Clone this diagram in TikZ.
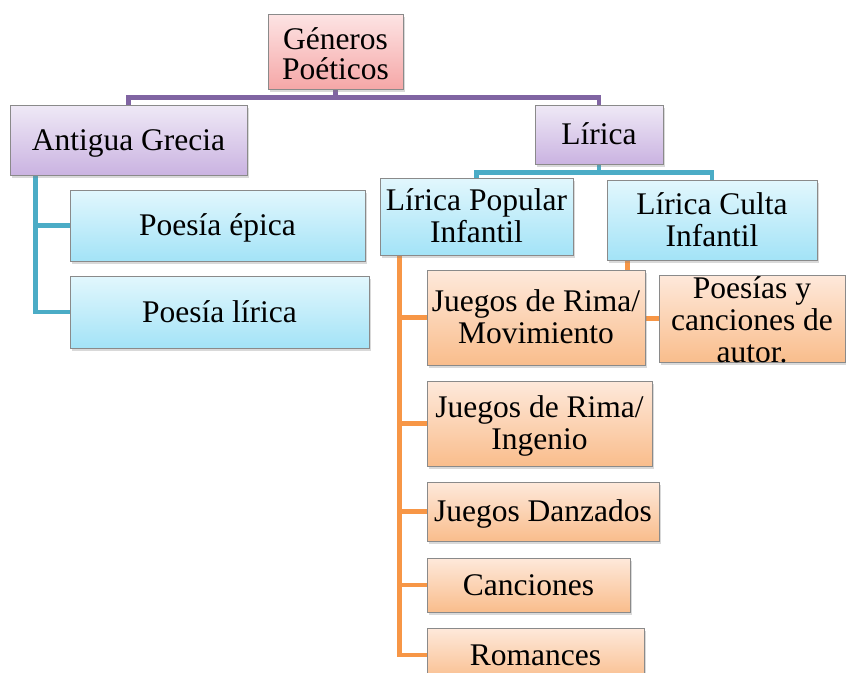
\documentclass[tikz,border=0pt]{standalone}
\usepackage{fontspec}
\setmainfont{Liberation Serif}
\usetikzlibrary{positioning,shadows,backgrounds}
\definecolor{boxgray}{HTML}{8A8A8A}
\definecolor{pinktop}{HTML}{FDE4E4}
\definecolor{pinkbot}{HTML}{F5A7A7}
\definecolor{purptop}{HTML}{EFE9F6}
\definecolor{purpbot}{HTML}{CAB3E1}
\definecolor{aquatop}{HTML}{E2F7FD}
\definecolor{aquabot}{HTML}{A3E3F7}
\definecolor{orangetop}{HTML}{FEE9DB}
\definecolor{orangebot}{HTML}{F9BD8C}
\definecolor{purplelink}{HTML}{8064A2}
\definecolor{aqualink}{HTML}{4BACC6}
\definecolor{orangelink}{HTML}{F79646}
\newcommand{\Txt}[2][-3.6pt]{\raisebox{#1}[\height][\depth]{\begin{tabular}{@{}c@{}}#2\end{tabular}}}

\begin{document}
\begin{tikzpicture}[x=1pt,y=-1pt,font=\fontsize{31.5}{32}\selectfont,
		base node/.style={rectangle,draw=boxgray,line width=1pt,inner sep=0pt,
			drop shadow={shadow xshift=2pt,shadow yshift=-2.5pt,opacity=0.3}},
		pink node/.style={base node,top color=pinktop,bottom color=pinkbot},
		purple node/.style={base node,top color=purptop,bottom color=purpbot},
		aqua node/.style={base node,top color=aquatop,bottom color=aquabot},
		orange node/.style={base node,top color=orangetop,bottom color=orangebot},
		link/.style={line width=4.5pt},
		purple link/.style={link,purplelink},
		aqua link/.style={link,aqualink},
		orange link/.style={link,orangelink}]
		
		\useasboundingbox (0,0) rectangle (846,672);
		\clip (0,0) rectangle (846,672);
		
		\node[pink node,minimum width=135pt,minimum height=75pt,
			font=\fontsize{31.5}{27}\selectfont] (generos) at (335.5,51.5) {\Txt[-5.6pt]{Géneros \\ Poéticos}};
		
		% Antigua Grecia
		\node[purple node,minimum width=237pt,minimum height=70pt] (grecia) at (128.5,140) {\Txt{Antigua Grecia}};
		\node[aqua node,minimum width=295pt,minimum height=71pt] (epica) at (217.5,225.5) {\Txt{Poesía épica}};
		\node[aqua node,minimum width=299pt,minimum height=72pt,
			below right=14pt and 0pt of epica.south west] (liricagr) {\Txt{Poesía lírica}};
		
		% Lirica
		\node[purple node,minimum width=128pt,minimum height=59pt] (lirica) at (599,134.5) {\Txt{Lírica}};
		\node[aqua node,minimum width=193pt,minimum height=77pt] (popular) at (476.5,216.5) {\Txt{Lírica Popular \\ Infantil}};
		\node[aqua node,minimum width=210pt,minimum height=80pt] (culta) at (712,220) {\Txt{Lírica Culta \\ Infantil}};
		
		\node[orange node,minimum width=218pt,minimum height=95pt] (movimiento) at (536,317.5) {\Txt{Juegos de Rima/ \\ Movimiento}};
		\node[orange node,minimum width=225pt,minimum height=85pt,
			below right=15pt and 0pt of movimiento.south west] (ingenio) {\Txt{Juegos de Rima/ \\ Ingenio}};
		\node[orange node,minimum width=232pt,minimum height=59pt,
			below right=15pt and 0pt of ingenio.south west] (danzados) {\Txt{Juegos Danzados}};
		\node[orange node,minimum width=203pt,minimum height=54pt,
			below right=16pt and 0pt of danzados.south west] (canciones) {\Txt{Canciones}};
		\node[orange node,minimum width=217pt,minimum height=54pt,
			below right=15pt and 0pt of canciones.south west] (romances) {\Txt{Romances}};
		% text runs over the box
		\node[orange node,minimum width=186pt,minimum height=87pt] (autor) at (752,318.5) {\smash{\Txt[-12pt]{Poesías y \\ canciones de \\ autor.}}};
		
		\begin{scope}[on background layer]
		\draw[purple link] (generos.south) -- ++(0,8) -| (grecia.north);
		\draw[purple link] (generos.south) -- ++(0,8) -| (lirica.north);
		\draw[aqua link] ([xshift=26pt]grecia.south west) |- (epica.west);
		\draw[aqua link] ([xshift=26pt]grecia.south west) |- (liricagr.west);
		\draw[aqua link] (lirica.south) -- ++(0,8) -| (popular.north);
		\draw[aqua link] (lirica.south) -- ++(0,8) -| (culta.north);
		\foreach \n in {movimiento,ingenio,danzados,canciones,romances}
			\draw[orange link] ([xshift=20pt]popular.south west) |- (\n.west);
		\draw[orange link] ([xshift=21pt]culta.south west) |- (autor.west);
		\end{scope}
\end{tikzpicture}
\end{document}
